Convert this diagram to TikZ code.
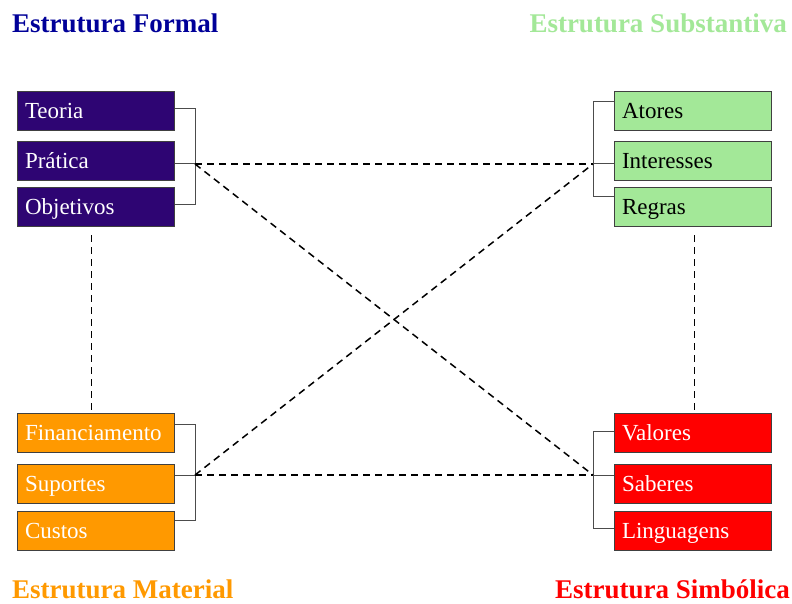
\documentclass[tikz,border=0pt]{standalone}
\usepackage{fontspec}
\setmainfont{Liberation Serif}
\begin{document}
\begin{tikzpicture}[x=1pt,y=-1pt,
  itembox/.style={draw=black!75, line width=1pt, minimum width=157pt, minimum height=39pt,
    anchor=north west, inner sep=0pt, text width=142pt, align=left,
    text height=18pt, text depth=3pt,
    font=\fontsize{23}{24}\selectfont},
  formalbox/.style={itembox, fill=formalc, text=white},
  substbox/.style={itembox, fill=substc, text=black},
  materbox/.style={itembox, fill=materc, text=white},
  simbbox/.style={itembox, fill=simbc, text=white},
  bracket/.style={draw=black!70, line width=1pt},
  link/.style={draw=black, line width=1.5pt, dash pattern=on 7pt off 5pt},
  title/.style={font=\fontsize{27}{30}\selectfont\bfseries, inner sep=0pt}
]
\definecolor{formalc}{HTML}{2E0573}
\definecolor{substc}{HTML}{A3E898}
\definecolor{materc}{HTML}{FF9900}
\definecolor{simbc}{HTML}{FF0000}
\definecolor{formalt}{HTML}{000099}
\definecolor{substt}{HTML}{A3E898}
\useasboundingbox[fill=white] (0,0) rectangle (792,604);

% titles
\node[title, text=formalt, anchor=base west] (tformal) at (12,33) {Estrutura Formal};
\node[title, text=substt, anchor=base east] (tsubst) at (787,33) {Estrutura Substantiva};
\node[title, text=materc, anchor=base west] (tmater) at (12,598) {Estrutura Material};
\node[title, text=simbc, anchor=base east] (tsimb) at (790,598) {Estrutura Simbólica};

% boxes
\node[formalbox] (teoria) at (17,91) {Teoria};
\node[formalbox] (pratica) at (17,141) {Prática};
\node[formalbox] (objetivos) at (17,187) {Objetivos};

\node[substbox] (atores) at (614,91) {Atores};
\node[substbox] (interesses) at (614,141) {Interesses};
\node[substbox] (regras) at (614,187) {Regras};

\node[materbox] (financ) at (17,413) {Financiamento};
\node[materbox] (suportes) at (17,464) {Suportes};
\node[materbox] (custos) at (17,511) {Custos};

\node[simbbox] (valores) at (614,413) {Valores};
\node[simbbox] (saberes) at (614,464) {Saberes};
\node[simbbox] (linguagens) at (614,511) {Linguagens};

% junction points
\coordinate (jfl) at (195,164);
\coordinate (jfr) at (593,164);
\coordinate (jml) at (195,475);
\coordinate (jmr) at (593,475);

% brackets
\draw[bracket] ([yshift=2.5pt]teoria.east) -| ([yshift=2.5pt]objetivos.east -| jfl) -- ([yshift=2.5pt]objetivos.east);
\draw[bracket] (pratica.east |- jfl) -- (jfl);
\draw[bracket] ([yshift=9.5pt]atores.west) -| ([yshift=10.5pt]regras.west -| jfr) -- ([yshift=10.5pt]regras.west);
\draw[bracket] (interesses.west |- jfr) -- (jfr);
\draw[bracket] ([yshift=9pt]financ.east) -| ([yshift=10.5pt]custos.east -| jml) -- ([yshift=10.5pt]custos.east);
\draw[bracket] (suportes.east |- jml) -- (jml);
\draw[bracket] ([yshift=2pt]valores.west) -| ([yshift=2.5pt]linguagens.west -| jmr) -- ([yshift=2.5pt]linguagens.west);
\draw[bracket] (saberes.west |- jmr) -- (jmr);

% dashed links
\draw[link] (jfl) -- (jfr);
\draw[link] (jml) -- (jmr);
\draw[link] (jfl) -- (jmr);
\draw[link] (jml) -- (jfr);
\draw[link, shorten <=8pt, shorten >=3pt] ([xshift=-4.5pt]objetivos.south) -- ([xshift=-4.5pt]financ.north);
\draw[link, shorten <=8pt, shorten >=3pt] ([xshift=1.5pt]regras.south) -- ([xshift=1.5pt]valores.north);
\end{tikzpicture}
\end{document}
